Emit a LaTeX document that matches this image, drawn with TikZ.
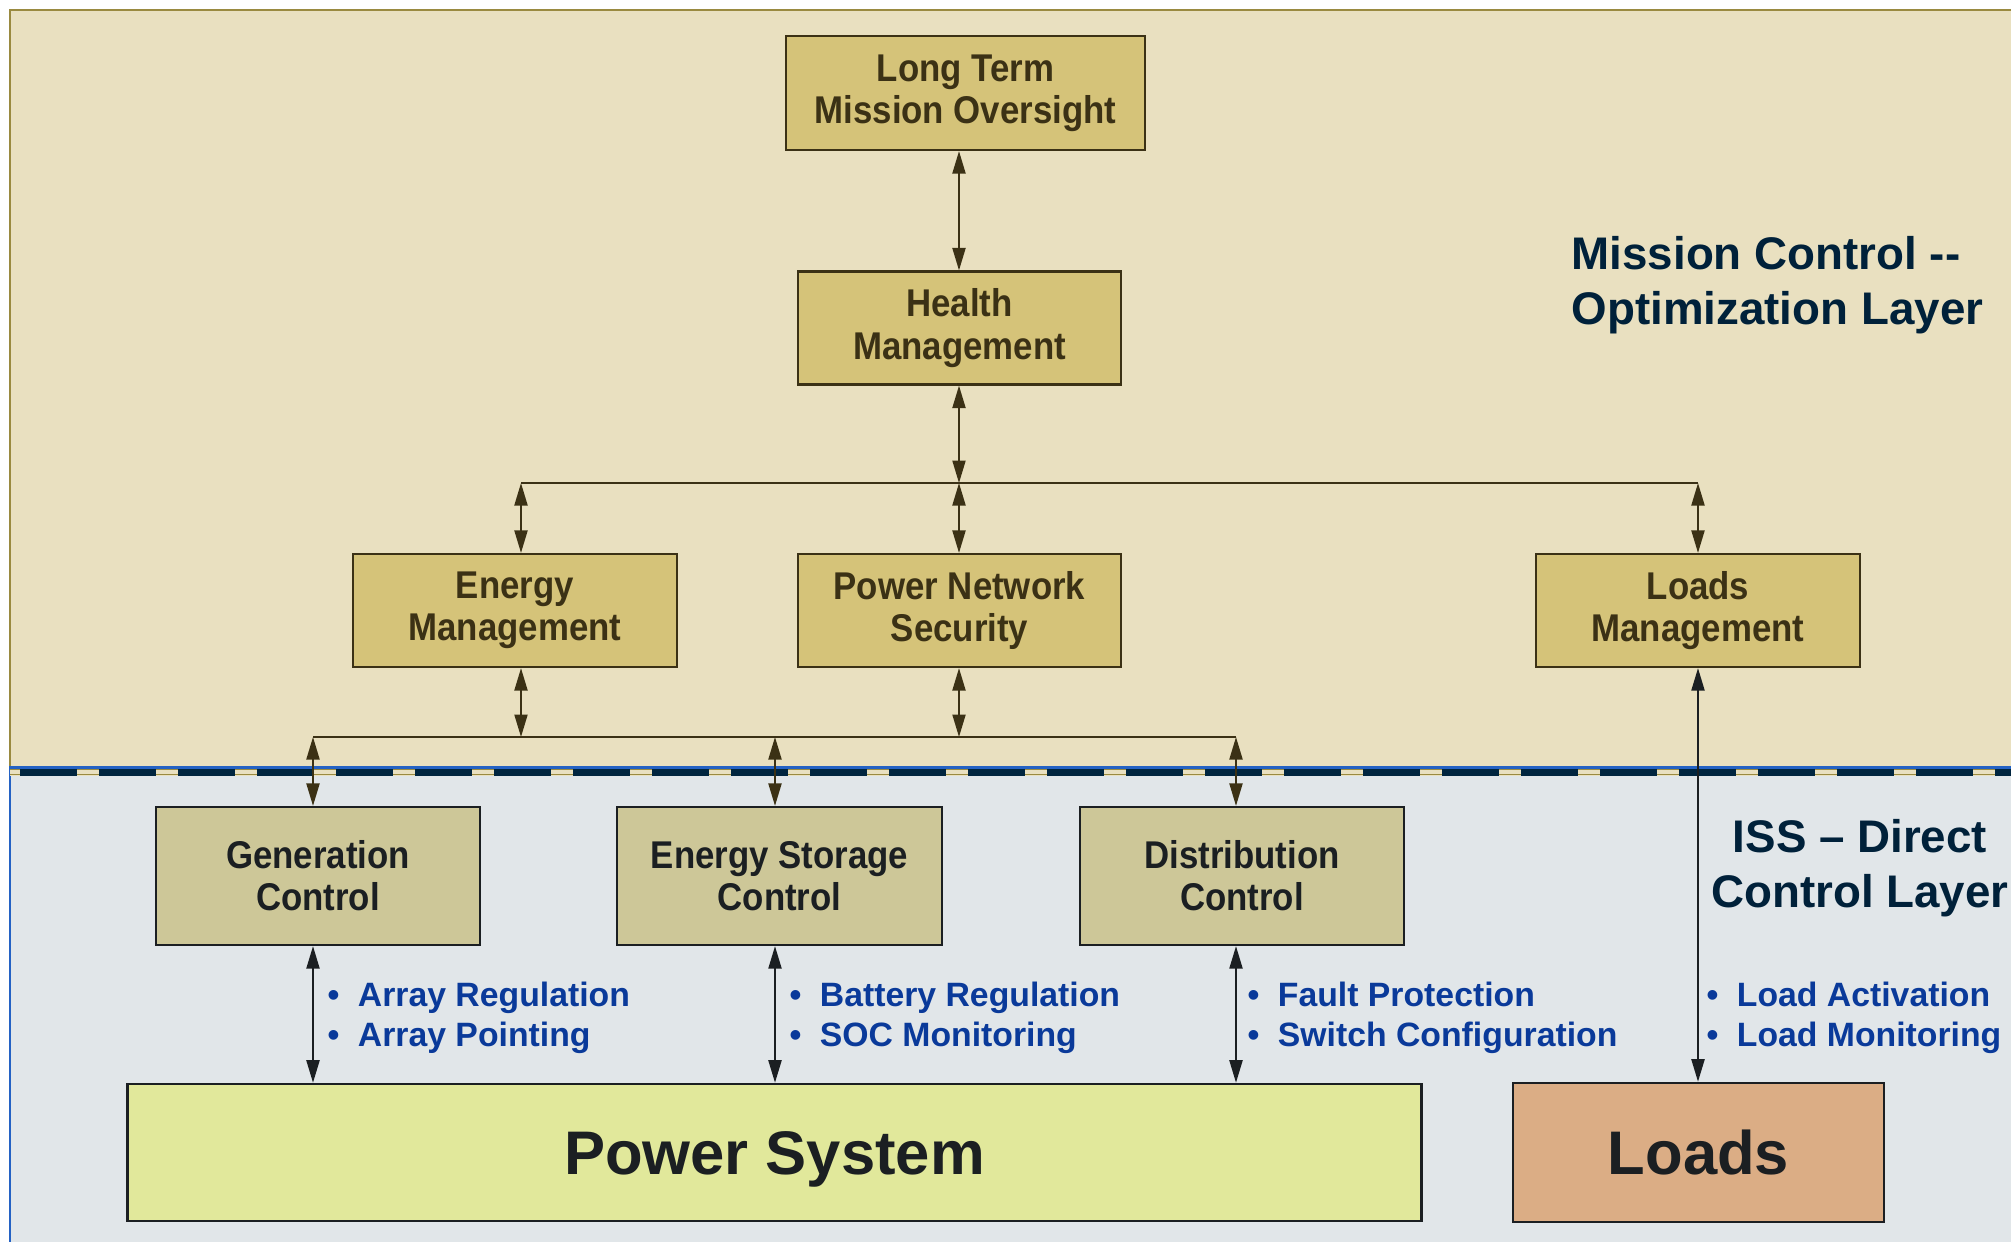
\documentclass[tikz,border=0pt]{standalone}
\usepackage{fontspec}
\setmainfont{Liberation Sans}
\newfontfamily\boxfont[FakeStretch=0.9]{Liberation Sans}
\usetikzlibrary{arrows.meta,calc}
\definecolor{topfill}{HTML}{E9E0C0}
\definecolor{topline}{HTML}{9A8A40}
\definecolor{botfill}{HTML}{E1E6E9}
\definecolor{botline}{HTML}{2462C4}
\definecolor{dashnavy}{HTML}{00253F}
\definecolor{mgmtfill}{HTML}{D5C379}
\definecolor{mgmttext}{HTML}{3B3115}
\definecolor{ctrlfill}{HTML}{CDC798}
\definecolor{ctrltext}{HTML}{1B1F22}
\definecolor{powerfill}{HTML}{E1E89B}
\definecolor{loadfill}{HTML}{DBAD85}
\definecolor{taskblue}{HTML}{0A3A9A}
\definecolor{layertext}{HTML}{00213A}
\tikzset{
%Define standard arrow tip
>={Triangle[length=6.4pt,width=3.7pt]},
%Define styles for the boxes
mgmt/.style={draw=mgmttext, fill=mgmtfill, text=mgmttext, line width=0.6pt,
  inner sep=0pt, minimum width=3.23cm, minimum height=1.13cm, align=center,
  font=\boxfont\bfseries\fontsize{11}{12}\selectfont},
ctrl/.style={mgmt, draw=ctrltext, fill=ctrlfill, text=ctrltext,
  minimum width=3.24cm, minimum height=1.38cm},
plant/.style={draw=ctrltext, text=ctrltext, line width=0.7pt, inner sep=0pt,
  minimum height=1.37cm, text depth=0pt,
  font=\bfseries\fontsize{17.5}{20}\selectfont},
%Define style for different line styles
link/.style={<->, line width=0.57pt, draw=mgmttext},
plantlink/.style={link, draw=ctrltext},
wire/.style={line width=0.57pt, draw=mgmttext},
task/.style={anchor=west, align=left, inner sep=0pt, text=taskblue,
  font=\bfseries\fontsize{9.6}{11.4}\selectfont},
layer/.style={inner sep=0pt, text=layertext,
  font=\bfseries\fontsize{13}{15.6}\selectfont},
}
\newcommand\taskitem[1]{\makebox[8.6pt][l]{\textbullet}#1}

\begin{document}
\begin{tikzpicture}[x=0.01cm, y=-0.01cm]
    \clip (0,0) rectangle (2011,1241);
    %Draw the two layers
    \fill[topfill] (10,10) rectangle (2030,768);
    \draw[topline, line width=0.7pt] (10,768) |- (2030,10);
    \fill[botfill] (10,768) rectangle (2030,1260);
    \draw[botline, line width=0.7pt] (10,1260) |- (2030,767.5);
    %Dashed border between the layers
    \fill[topfill] (10,768.5) rectangle (2030,775.5);
    \draw[topline, line width=0.3pt] (10,769.5) -- (2030,769.5);
    \draw[topline, line width=0.3pt] (10,774.5) -- (2030,774.5);
    \draw[dashnavy, line width=2pt, dash pattern=on 16.2pt off 6.26pt]
    (20,772) -- (2030,772);

    %Mission control layer
    \node[mgmt, minimum width=3.58cm, minimum height=1.14cm] (LTMO) at (965.5,93)
    {Long Term\\Mission Oversight};
    \node[mgmt] (HM) at (959.5,328) {Health\\Management};
    \node[mgmt] (EM) at (515,610.5) {Energy\\Management};
    \node[mgmt] (PNS) at (959.5,610.5) {Power Network\\Security};
    \node[mgmt] (LM) at (1698,610.5) {Loads\\Management};

    %Direct control layer
    \node[ctrl] (GC) at (318,876) {Generation\\Control};
    \node[ctrl] (ESC) at (779.5,876) {Energy Storage\\Control};
    \node[ctrl] (DC) at (1242,876) {Distribution\\Control};
    \node[plant, fill=powerfill, minimum width=12.93cm] (PS) at (774.5,1152.5)
    {Power System};
    \node[plant, fill=loadfill, minimum width=3.71cm, minimum height=1.39cm]
    (loads) at (1698.5,1152.5) {Loads};

    %Bus coordinates
    \coordinate (tbL) at (521,483);
    \coordinate (tbM) at (959,483);
    \coordinate (tbR) at (1698,483);
    \coordinate (bbL) at (313,737);
    \coordinate (bbEM) at (521,737);
    \coordinate (bbM) at (775,737);
    \coordinate (bbPNS) at (959,737);
    \coordinate (bbR) at (1236,737);

    %Connections in the mission control layer
    \draw[link] (LTMO.south -| tbM) -- (HM.north -| tbM);
    \draw[link] (HM.south -| tbM) -- (tbM);
    \draw[wire] (tbL) -- (tbR);
    \draw[link] (tbL) -- (EM.north -| tbL);
    \draw[link] (tbM) -- (PNS.north -| tbM);
    \draw[link] (tbR) -- (LM.north -| tbR);
    \draw[link] (EM.south -| bbEM) -- (bbEM);
    \draw[link] (PNS.south -| bbPNS) -- (bbPNS);
    \draw[wire] (bbL) -- (bbR);
    %Down to the direct control layer
    \draw[link] (bbL) -- (GC.north -| bbL);
    \draw[link] (bbM) -- (ESC.north -| bbM);
    \draw[link] (bbR) -- (DC.north -| bbR);
    %Down to the hardware
    \draw[plantlink] (GC.south -| bbL) -- (PS.north -| bbL);
    \draw[plantlink] (ESC.south -| bbM) -- (PS.north -| bbM);
    \draw[plantlink] (DC.south -| bbR) -- (PS.north -| bbR);
    \draw[plantlink] (LM.south -| tbR) -- (loads.north -| tbR);

    %Tasks next to the arrows
    \node[task] (genTasks) at (327,1018)
    {\taskitem{Array Regulation}\\\taskitem{Array Pointing}};
    \node[task] (stoTasks) at (789,1018)
    {\taskitem{Battery Regulation}\\\taskitem{SOC Monitoring}};
    \node[task] (disTasks) at (1247,1018)
    {\taskitem{Fault Protection}\\\taskitem{Switch Configuration}};
    \node[task] (loadTasks) at (1706,1018)
    {\taskitem{Load Activation}\\\taskitem{Load Monitoring}};

    %Layer names
    \node[layer, anchor=west, align=left] (missionLayer) at (1571,285)
    {Mission Control -\kern0pt-\\Optimization Layer};
    \node[layer, align=center] (issLayer) at (1860,868)
    {ISS -- Direct\\Control Layer};
\end{tikzpicture}
\end{document}
